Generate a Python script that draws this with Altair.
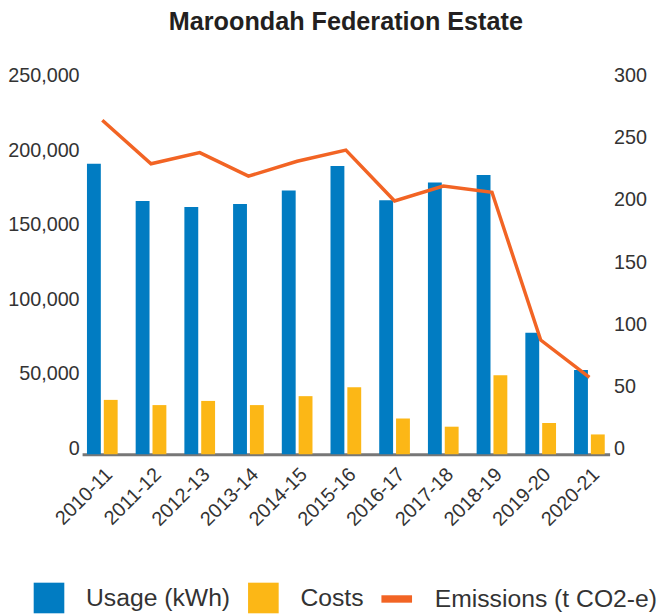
import altair as alt
import pandas as pd

years = ["2010-11", "2011-12", "2012-13", "2013-14", "2014-15", "2015-16",
         "2016-17", "2017-18", "2018-19", "2019-20", "2020-21"]
usage_kwh = [195000, 170000, 166000, 168000, 177000, 193500, 170500, 182500, 187500, 81500, 56500]
costs = [36500, 33000, 35800, 33000, 39000, 45000, 24000, 18500, 53000, 21000, 13300]
emissions = [269, 234, 243, 224, 236, 245, 204, 216, 211, 92, 62]

bar_series = ["Usage (kWh)", "Costs"]
bar_colors = ["#017CC2", "#FCB716"]
line_series = ["Emissions (t CO2-e)"]
line_colors = ["#F26424"]

left_ticks = [0, 50000, 100000, 150000, 200000, 250000]
right_ticks = [0, 50, 100, 150, 200, 250, 300]

bars_df = pd.DataFrame(
    [{"year": y, "series": bar_series[0], "value": u} for y, u in zip(years, usage_kwh)]
    + [{"year": y, "series": bar_series[1], "value": c} for y, c in zip(years, costs)]
)
line_df = pd.DataFrame({"year": years, "value": emissions, "series": line_series[0]})

FONT = "Liberation Sans"
TXT = "#333333"
LEG_FS = 25

x_enc = alt.X(
    "year:N", sort=years,
    scale=alt.Scale(paddingInner=0.37, paddingOuter=0.1),
    axis=alt.Axis(title=None, labelAngle=-45, labelFontSize=20, labelFont=FONT,
                  labelColor=TXT, ticks=False, domain=True, domainColor="#777777",
                  domainWidth=3, labelPadding=10, grid=False),
)

bars = alt.Chart(bars_df).mark_bar().encode(
    x=x_enc,
    xOffset=alt.XOffset("series:N", sort=bar_series,
                        scale=alt.Scale(paddingInner=0.176, paddingOuter=0)),
    y=alt.Y("value:Q",
            scale=alt.Scale(domain=[0, 250000], nice=False, zero=True),
            axis=alt.Axis(title=None, values=left_ticks, orient="left",
                          labelExpr="format(datum.value, ',')",
                          domain=False, ticks=False, grid=False, labelPadding=3,
                          labelFontSize=20, labelFont=FONT, labelColor=TXT,
                          labelOffset=-6)),
    fill=alt.Fill("series:N", sort=bar_series,
                  scale=alt.Scale(domain=bar_series, range=bar_colors),
                  legend=alt.Legend(title=None, orient="none", direction="horizontal",
                                    legendX=-49, legendY=507, symbolType="square",
                                    symbolSize=961, symbolStrokeWidth=0,
                                    labelFontSize=LEG_FS, labelFont=FONT, labelColor=TXT,
                                    labelLimit=400,
                                    labelOffset=22, columnPadding=18, padding=0)),
)

line = alt.Chart(line_df).mark_line(strokeWidth=3.5).encode(
    x=alt.X("year:N", sort=years),
    y=alt.Y("value:Q",
            scale=alt.Scale(domain=[0, 300], nice=False, zero=True),
            axis=alt.Axis(title=None, values=right_ticks, orient="right",
                          domain=False, ticks=False, grid=False, labelPadding=4,
                          labelFontSize=20, labelFont=FONT, labelColor=TXT,
                          labelOffset=-6)),
    stroke=alt.Stroke("series:N",
                      scale=alt.Scale(domain=line_series, range=line_colors),
                      legend=alt.Legend(title=None, orient="none", direction="horizontal",
                                        legendX=299, legendY=504, symbolType="stroke",
                                        symbolSize=961, symbolStrokeWidth=7.5,
                                        labelFontSize=LEG_FS, labelFont=FONT, labelColor=TXT,
                                        labelLimit=400,
                                        labelOffset=19, padding=0)),
)

chart = alt.layer(bars, line).resolve_scale(y="independent", fill="independent", stroke="independent").properties(
    width=534,
    height=377,
    title=alt.TitleParams("Maroondah Federation Estate", fontSize=25.5, font=FONT,
                          fontWeight="bold", color="#231F20", anchor="middle", offset=31),
    autosize=alt.AutoSizeParams(type="none"),
    padding={"left": 75, "top": 71, "right": 51, "bottom": 160},
).configure_view(stroke=None)

chart.save("out.html", embed_options={"renderer": "svg", "actions": False})
